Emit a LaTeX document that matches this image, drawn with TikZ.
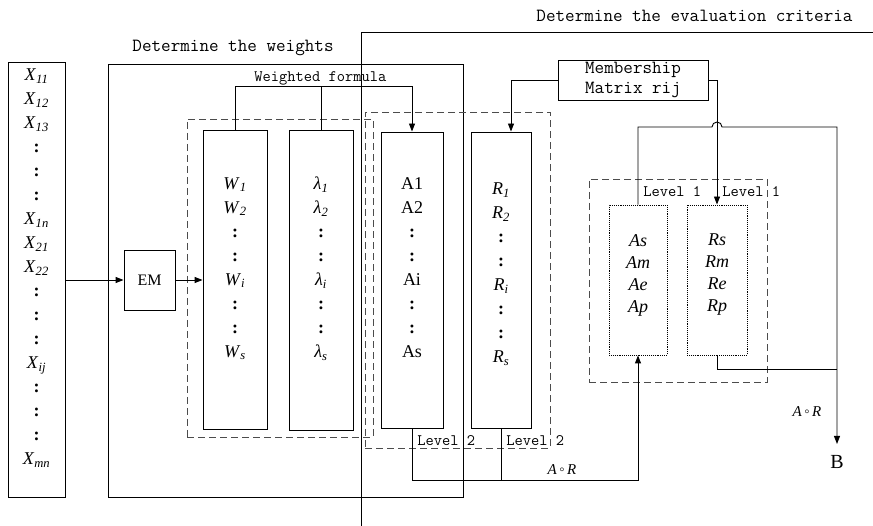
\documentclass[tikz,border=0pt]{standalone}
\usepackage{fontspec}
\setmainfont{Liberation Serif}
\usetikzlibrary{arrows.meta}
\newcommand\iv[2]{\textit{#1}\textsubscript{\textit{#2}}}
\newcommand\vd{\textbf{:}}
\newcommand\comp{\textit{A}\,◦\,\textit{R}}
\begin{document}
\begin{tikzpicture}[x=1pt, y=-1pt, line width=0.9pt,
  every node/.style = {inner sep=0pt},
  box/.style = {draw, rectangle},
  dbox/.style = {draw=black!70, dash pattern=on 7pt off 4pt},
  sbox/.style = {draw, densely dotted},
  list/.style = {align=center, font=\fontsize{18}{24}\selectfont},
  tag/.style = {font=\ttfamily\fontsize{16}{20}\selectfont},
  head/.style = {font=\ttfamily\fontsize{18.6}{20}\selectfont},
  arr/.style = {-{Triangle[length=8pt,width=6pt]}}]
  \useasboundingbox (0,0) rectangle (873,526);
  \node[box, minimum width=57pt, minimum height=435pt] (xbox) at (36.5,279.5) {};
  \node[list] (xtxt) at (36.5,268) {\iv{X}{11}\\ \iv{X}{12}\\ \iv{X}{13}\\ \vd\\ \vd\\ \vd\\
    \iv{X}{1n}\\ \iv{X}{21}\\ \iv{X}{22}\\ \vd\\ \vd\\ \vd\\ \iv{X}{ij}\\ \vd\\ \vd\\ \vd\\ \iv{X}{mn}};
  \node[box, minimum width=355pt, minimum height=433pt] (wframe) at (285.5,280.5) {};
  \node[head, anchor=west] (whead) at (132,48) {Determine the weights};
  \draw (361,526) -- (361,32) -- (873,32);
  \node[head, anchor=west] (ehead) at (536,16) {Determine the evaluation criteria};
  \node[box, font=\fontsize{16}{20}\selectfont, minimum width=51pt, minimum height=60pt] (em) at (149.5,280) {EM};
  \node[dbox, minimum width=186pt, minimum height=318pt] (wlgroup) at (280,278) {};
  \node[dbox, minimum width=185pt, minimum height=336pt] (argroup) at (457.5,280) {};
  \node[dbox, minimum width=178pt, minimum height=203pt] (lvgroup) at (678,280.5) {};
  \node[box, minimum width=64pt, minimum height=299pt] (wbox) at (235,279.5) {};
  \node[list] (wtxt) at (235,268.5) {\iv{W}{1}\\ \iv{W}{2}\\ \vd\\ \vd\\ \iv{W}{i}\\ \vd\\ \vd\\ \iv{W}{s}};
  \node[box, minimum width=64pt, minimum height=300pt] (lbox) at (321,280) {};
  \node[list] (ltxt) at (321,268.5) {\iv{λ}{1}\\ \iv{λ}{2}\\ \vd\\ \vd\\ \iv{λ}{i}\\ \vd\\ \vd\\ \iv{λ}{s}};
  \node[box, minimum width=62pt, minimum height=296pt] (abox) at (412,280) {};
  \node[list] (atxt) at (412,267.5) {A1\\ A2\\ \vd\\ \vd\\ Ai\\ \vd\\ \vd\\ As};
  \node[box, minimum width=60pt, minimum height=296pt] (rbox) at (501,280) {};
  \node[list] (rtxt) at (501,274) {\iv{R}{1}\\ \iv{R}{2}\\ \vd\\ \vd\\ \iv{R}{i}\\ \vd\\ \vd\\ \iv{R}{s}};
  \node[box, head, align=center, minimum width=150pt, minimum height=40pt] (member) at (633,80) {Membership\\Matrix rij};
  \node[sbox, minimum width=58pt, minimum height=150pt] (asbox) at (638,280) {};
  \node[list, font=\fontsize{18}{22}\selectfont\itshape] (astxt) at (638,275) {As\\ Am\\ Ae\\ Ap};
  \node[sbox, minimum width=60pt, minimum height=150pt] (rsbox) at (717,280) {};
  \node[list, font=\fontsize{18}{22}\selectfont\itshape] (rstxt) at (717,275) {Rs\\ Rm\\ Re\\ Rp};
  \node[font=\fontsize{20}{24}\selectfont] (bnode) at (837,462) {B};
  \node[tag, anchor=west] (wflabel) at (254,78) {Weighted formula};
  \node[tag, anchor=west] (alevel) at (417,441) {Level 2};
  \node[tag, anchor=west] (rlevel) at (506,441) {Level 2};
  \node[tag, anchor=west] (aslevel) at (643,192) {Level 1};
  \node[tag, anchor=west] (rslevel) at (722,192) {Level 1};
  \node[font=\fontsize{15}{18}\selectfont] (comp1) at (562,470) {\comp};
  \node[font=\fontsize{15}{18}\selectfont] (comp2) at (807,412) {\comp};
  \coordinate (turn) at (837,127);
  \coordinate (rjoin) at (837,369);
  \coordinate (hop) at ([xshift=-5pt]rsbox.north);
  \draw[arr] (xbox.east |- em.west) -- (em.west);
  \draw[arr] (em.east) -- (em.east -| wbox.west);
  \draw[arr] (wbox.north) -- ++(0,-43) -| (abox.north);
  \draw (lbox.north) -- ++(0,-43);
  \draw[arr] (member.west) -| ([xshift=10pt]rbox.north);
  \draw[arr] (member.east) -| (rsbox.north);
  \draw[arr] (asbox.north) |- (hop |- turn) arc (180:0:5pt) -- (turn) -- ([yshift=11pt]bnode.north);
  \draw (rsbox.south) |- (rjoin);
  \draw[arr] (abox.south) -- ++(0,52) -| (asbox.south);
  \draw (rbox.south) -- ++(0,52);
\end{tikzpicture}
\end{document}
